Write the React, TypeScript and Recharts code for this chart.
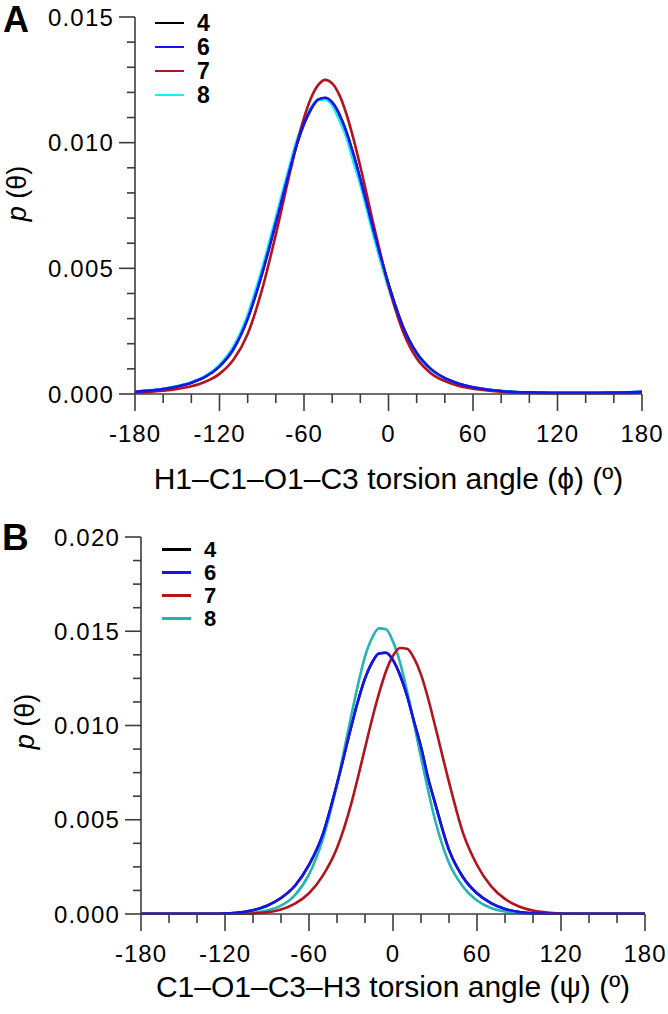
import { LineChart, Line, XAxis, YAxis, Legend } from "recharts";

// torsion angle grid (degrees)
const anglesA = [
  -180, -170, -160, -150, -140, -130, -120, -110, -100, -90, -80, -70, -65,
  -60, -55, -50, -45, -40, -35, -30, -25, -20, -10, 0, 10, 20, 30, 40, 50, 60,
  70, 80, 90, 100, 110, 120, 130, 140, 150, 160, 170, 180,
];
const anglesB = [
  -180, -170, -160, -150, -140, -130, -120, -110, -100, -90, -80, -70, -60,
  -50, -40, -30, -25, -20, -15, -10, -5, 0, 5, 10, 15, 20, 25, 30, 40, 50, 60,
  70, 80, 90, 100, 110, 120, 130, 140, 150, 160, 170, 180,
];

// phi distributions
const phi4 = [
  0.00009, 0.000135, 0.0002, 0.0003, 0.00045, 0.00069, 0.0011, 0.0018, 0.003,
  0.00475, 0.00682, 0.00895, 0.00995, 0.01075, 0.01134, 0.01171, 0.01178,
  0.0116, 0.01113, 0.01044, 0.00955, 0.00854, 0.00638, 0.00437, 0.00272,
  0.00163, 0.001, 0.00063, 0.00041, 0.00027, 0.00018, 0.00012, 0.00008,
  0.000065, 0.000055, 0.00005, 0.000048, 0.000048, 0.00005, 0.000057,
  0.000068, 0.00009,
];
const phi6 = [
  0.00009, 0.000135, 0.0002, 0.0003, 0.00045, 0.00069, 0.0011, 0.0018, 0.003,
  0.00475, 0.00682, 0.00895, 0.00995, 0.01075, 0.01134, 0.01171, 0.01179,
  0.0116, 0.01113, 0.01044, 0.00955, 0.00854, 0.00638, 0.00437, 0.00272,
  0.00163, 0.001, 0.00063, 0.00041, 0.00027, 0.00018, 0.00012, 0.00008,
  0.000065, 0.000055, 0.00005, 0.000048, 0.000048, 0.00005, 0.000057,
  0.000068, 0.00009,
];
const phi7 = [
  0.000058, 0.000085, 0.00013, 0.0002, 0.00031, 0.00049, 0.0008, 0.00137,
  0.00239, 0.00411, 0.00635, 0.00881, 0.00997, 0.01099, 0.01178, 0.01229,
  0.0125, 0.01236, 0.01191, 0.01116, 0.01018, 0.00905, 0.00659, 0.00432,
  0.00253, 0.00142, 0.00083, 0.00051, 0.00032, 0.00021, 0.00014, 0.00009,
  0.00006, 0.000045, 0.000035, 0.00003, 0.000028, 0.000028, 0.00003,
  0.000036, 0.000045, 0.000058,
];
const phi8 = [
  0.000093, 0.00014, 0.00021, 0.000315, 0.00047, 0.00072, 0.00116, 0.0019,
  0.00316, 0.00496, 0.00703, 0.00913, 0.01012, 0.01085, 0.0114, 0.0117,
  0.01172, 0.01148, 0.0109, 0.01022, 0.00925, 0.00832, 0.00616, 0.00421,
  0.00261, 0.00156, 0.00096, 0.0006, 0.00039, 0.00026, 0.000173, 0.000115,
  0.000078, 0.000064, 0.000054, 0.00005, 0.000048, 0.000048, 0.000051,
  0.000058, 0.00007, 0.000093,
];

// psi distributions
const psi4 = [
  0.00001, 0.00001, 0.00001, 0.00001, 0.00001, 0.00001, 0.00003, 0.00008,
  0.0002, 0.00044, 0.00085, 0.0015, 0.0026, 0.00425, 0.0069, 0.0099, 0.0113,
  0.0125, 0.01334, 0.01382, 0.01386, 0.01347, 0.01268, 0.0116, 0.01021,
  0.00885, 0.00723, 0.0059, 0.0034, 0.00195, 0.0011, 0.00058, 0.00027,
  0.00011, 0.00004, 0.00002, 0.00001, 0.00001, 0.00001, 0.00001, 0.00001,
  0.00001, 0.00001,
];
const psi6 = [
  0.00001, 0.00001, 0.00001, 0.00001, 0.00001, 0.00001, 0.00003, 0.00008,
  0.0002, 0.00044, 0.00085, 0.0015, 0.0026, 0.00425, 0.0069, 0.0099, 0.0113,
  0.0125, 0.01334, 0.01382, 0.01386, 0.01347, 0.01268, 0.0116, 0.01021,
  0.00885, 0.00723, 0.0059, 0.0034, 0.00195, 0.0011, 0.00058, 0.00027,
  0.00011, 0.00004, 0.00002, 0.00001, 0.00001, 0.00001, 0.00001, 0.00001,
  0.00001, 0.00001,
];
const psi7 = [
  0.00001, 0.00001, 0.00001, 0.00001, 0.00001, 0.00001, 0.00001, 0.00001,
  0.00003, 0.00009, 0.00024, 0.00055, 0.0011, 0.00205, 0.0035, 0.0058,
  0.00726, 0.0088, 0.01032, 0.0117, 0.01288, 0.0137, 0.01411, 0.01407,
  0.01357, 0.0127, 0.01146, 0.01, 0.007, 0.0043, 0.0026, 0.00148, 0.0008,
  0.0004, 0.00018, 0.00008, 0.00003, 0.00001, 0.00001, 0.00001, 0.00001,
  0.00001, 0.00001,
];
const psi8 = [
  0.00001, 0.00001, 0.00001, 0.00001, 0.00001, 0.00001, 0.00001, 0.00003,
  0.00007, 0.00018, 0.00044, 0.001, 0.0021, 0.004, 0.0069, 0.01045, 0.01217,
  0.01366, 0.01464, 0.01515, 0.0151, 0.01445, 0.01335, 0.01183, 0.01012,
  0.00831, 0.00658, 0.005, 0.0027, 0.00145, 0.00072, 0.00032, 0.00013,
  0.00005, 0.00002, 0.00001, 0.00001, 0.00001, 0.00001, 0.00001, 0.00001,
  0.00001, 0.00001,
];

const xTicks = [
  -180, -160, -140, -120, -100, -80, -60, -40, -20, 0, 20, 40, 60, 80, 100,
  120, 140, 160, 180,
];
const yTicksA = [
  0, 0.001, 0.002, 0.003, 0.004, 0.005, 0.006, 0.007, 0.008, 0.009, 0.01,
  0.011, 0.012, 0.013, 0.014, 0.015,
];
const yTicksB = [
  0, 0.00125, 0.0025, 0.00375, 0.005, 0.00625, 0.0075, 0.00875, 0.01, 0.01125,
  0.0125, 0.01375, 0.015, 0.01625, 0.0175, 0.01875, 0.02,
];

const FONT = '"Liberation Sans", Arial, Helvetica, sans-serif';
const AXIS = "#3c3c3c";

const toRows = (angles: number[], s4: number[], s6: number[], s7: number[], s8: number[]) =>
  angles.map((angle, i) => ({ angle, s4: s4[i], s6: s6[i], s7: s7[i], s8: s8[i] }));

const dataA = toRows(anglesA, phi4, phi6, phi7, phi8);
const dataB = toRows(anglesB, psi4, psi6, psi7, psi8);

const isMajor = (v: number, step: number) =>
  Math.abs(v / step - Math.round(v / step)) < 1e-6;

const XTick = (props: any) => {
  const { x, y, payload } = props;
  const major = isMajor(payload.value, 60);
  return (
    <g>
      <line x1={x} x2={x} y1={y} y2={y + (major ? 17 : 9)} stroke={AXIS} strokeWidth={1.6} />
      {major && (
        <text x={x} y={y + 48} textAnchor="middle" fontSize={24} fontFamily={FONT} fill="#000" letterSpacing={1}>
          {payload.value}
        </text>
      )}
    </g>
  );
};

const makeYTick = (step: number) => (props: any) => {
  const { x, y, payload } = props;
  const major = isMajor(payload.value, step);
  return (
    <g>
      <line x1={x} x2={x - (major ? 16 : 8)} y1={y} y2={y} stroke={AXIS} strokeWidth={1.6} />
      {major && (
        <text x={x - 21} y={y + 8.5} textAnchor="end" fontSize={24} fontFamily={FONT} fill="#000" letterSpacing={1.2}>
          {payload.value.toFixed(3)}
        </text>
      )}
    </g>
  );
};

const yLabel = (dx: number, dy: number) => (props: any) => {
  const { viewBox } = props;
  const cx = viewBox.x + dx;
  const cy = viewBox.y + viewBox.height / 2 + dy;
  return (
    <text
      x={cx}
      y={cy}
      transform={`rotate(-90, ${cx}, ${cy})`}
      textAnchor="middle"
      dominantBaseline="central"
      fontSize={27}
      fontFamily={FONT}
      fill="#000"
    >
      <tspan fontStyle="italic">p</tspan>
      <tspan> (θ)</tspan>
    </text>
  );
};

const xLabel = (text: string, dy: number) => (props: any) => {
  const { viewBox } = props;
  return (
    <text
      x={viewBox.x + viewBox.width / 2}
      y={viewBox.y + dy}
      textAnchor="middle"
      fontSize={30}
      fontFamily={FONT}
      fill="#000"
    >
      {text}
    </text>
  );
};

type Series = { key: string; name: string; color: string };

const legendBox = (series: Series[], rowHeight: number, fontSize: number) => () => (
  <div style={{ fontFamily: FONT }}>
    {series.map((s) => (
      <div key={s.key} style={{ display: "flex", alignItems: "center", height: rowHeight }}>
        <span style={{ width: 29, height: 2.5, background: s.color, marginRight: 13 }} />
        <span style={{ fontWeight: "bold", fontSize, lineHeight: "18px" }}>{s.name}</span>
      </div>
    ))}
  </div>
);

const seriesA: Series[] = [
  { key: "s4", name: "4", color: "#000000" },
  { key: "s6", name: "6", color: "#1414f0" },
  { key: "s7", name: "7", color: "#b2131c" },
  { key: "s8", name: "8", color: "#19f0f0" },
];
const seriesB: Series[] = [
  { key: "s4", name: "4", color: "#000000" },
  { key: "s6", name: "6", color: "#1414f0" },
  { key: "s7", name: "7", color: "#b2131c" },
  { key: "s8", name: "8", color: "#26b3b3" },
];

// curves are layered so that 6 ends up on top
const drawOrder = ["s4", "s8", "s7", "s6"];

const Panel = ({
  data,
  series,
  yMax,
  yTicks,
  yStep,
  title,
  margin,
  yWidth,
  height,
  legendPos,
  rowHeight,
  legendFont,
  yLabelDx,
  yLabelDy,
  titleDy,
}: any) => (
  <LineChart width={668} height={height} data={data} margin={margin}>
    <XAxis
      dataKey="angle"
      type="number"
      domain={[-180, 180]}
      ticks={xTicks}
      interval={0}
      tickSize={0}
      tickMargin={0}
      tick={<XTick />}
      axisLine={{ stroke: AXIS, strokeWidth: 1.6 }}
      height={height - margin.top - margin.bottom - 377}
      label={{ content: xLabel(title, titleDy) }}
    />
    <YAxis
      type="number"
      domain={[0, yMax]}
      ticks={yTicks}
      interval={0}
      tickSize={0}
      tickMargin={0}
      width={yWidth}
      tick={makeYTick(yStep)}
      axisLine={{ stroke: AXIS, strokeWidth: 1.6 }}
      label={{ content: yLabel(yLabelDx, yLabelDy) }}
    />
    <Legend
      verticalAlign="middle"
      align="center"
      layout="horizontal"
      content={legendBox(series, rowHeight, legendFont)}
      wrapperStyle={{ top: legendPos.top, left: legendPos.left, width: "auto", height: "auto" }}
    />
    {drawOrder.map((k) => {
      const s = series.find((d: Series) => d.key === k);
      return (
        <Line
          key={k}
          type="monotone"
          dataKey={k}
          name={s.name}
          stroke={s.color}
          strokeWidth={2.6}
          dot={false}
          isAnimationActive={false}
        />
      );
    })}
  </LineChart>
);

export default function App() {
  return (
    <div style={{ position: "absolute", left: 0, top: 0, width: 668, height: 1014, background: "#fff", fontFamily: FONT }}>
      <div style={{ position: "absolute", left: 0, top: 0 }}>
        <Panel
          data={dataA}
          series={seriesA}
          yMax={0.015}
          yTicks={yTicksA}
          yStep={0.005}
          title="H1–C1–O1–C3 torsion angle (ϕ) (º)"
          margin={{ top: 17, right: 26, left: 5, bottom: 0 }}
          yWidth={130}
          height={510}
          legendPos={{ top: 11, left: 155 }}
          rowHeight={24}
          legendFont={23}
          yLabelDx={12}
          yLabelDy={-12}
          titleDy={95}
        />
      </div>
      <div style={{ position: "absolute", left: 0, top: 510 }}>
        <Panel
          data={dataB}
          series={seriesB}
          yMax={0.02}
          yTicks={yTicksB}
          yStep={0.005}
          title="C1–O1–C3–H3 torsion angle (ψ) (º)"
          margin={{ top: 27, right: 23, left: 5, bottom: 0 }}
          yWidth={136}
          height={504}
          legendPos={{ top: 28, left: 162 }}
          rowHeight={23}
          legendFont={22}
          yLabelDx={20}
          yLabelDy={-4}
          titleDy={83}
        />
      </div>
      <div style={{ position: "absolute", left: 3, top: 2, fontSize: 36, fontWeight: "bold", lineHeight: "36px" }}>A</div>
      <div style={{ position: "absolute", left: 2, top: 519, fontSize: 37, fontWeight: "bold", lineHeight: "37px" }}>B</div>
    </div>
  );
}
